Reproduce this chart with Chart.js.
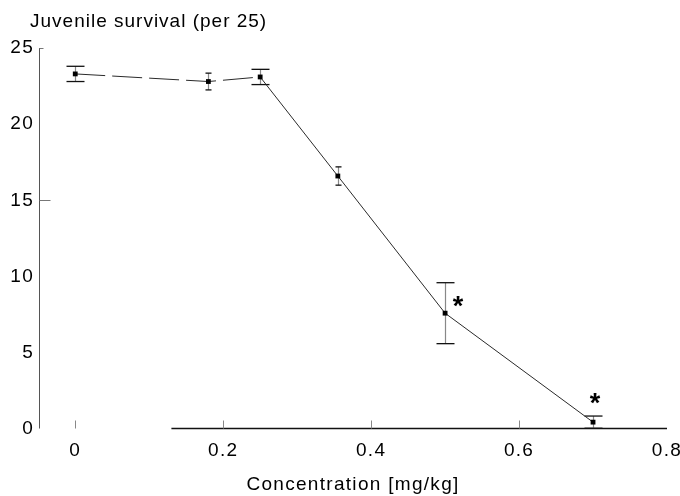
<!DOCTYPE html>
<html>
<head>
<meta charset="utf-8">
<script src="https://cdn.jsdelivr.net/npm/chart.js@4.4.1/dist/chart.umd.min.js"></script>
<style>
  html, body { margin: 0; padding: 0; background: #fff; }
  #wrap { width: 680px; height: 496px; }
</style>
</head>
<body>
<div id="wrap"><canvas id="chart" width="680" height="496"></canvas></div>
<script>
// Juvenile survival against concentration (means with error bars)
const concentration = [0, 0.18, 0.25, 0.355, 0.5, 0.7];
const survival      = [23.3, 22.8, 23.1, 16.6, 7.6, 0.45];
const survivalError = [0.5, 0.55, 0.5, 0.6, 2.0, 0.4];
const significant   = [false, false, false, false, true, true];

const xTickValues = [0, 0.2, 0.4, 0.6, 0.8];
const yTickValues = [0, 5, 10, 15, 20, 25];

const yAxisTitle = 'Juvenile survival (per 25)';
const xAxisTitle = 'Concentration [mg/kg]';

// drawing style
const FONT_FAMILY = '"Liberation Sans", Arial, Helvetica, sans-serif';
const FONT_SIZE = 19;
const LETTER_SPACING = '1.3px';
const capHalfWidth = [9, 3, 9, 3, 9, 9];
const starOffset = [null, null, null, null, [13, -12], [2, -24]];
const xAxisLineStart = 0.13;

const figureDecor = {
  id: 'figureDecor',
  beforeDraw(chart) {
    chart.ctx.letterSpacing = LETTER_SPACING;
  },
  beforeDatasetsDraw(chart) {
    const { ctx, chartArea, scales: { x, y } } = chart;
    ctx.save();
    ctx.letterSpacing = '0px';
    const y0 = Math.round(y.getPixelForValue(0)) - 0.5;
    const xl = Math.round(chartArea.left) + 0.5;

    // vertical axis
    ctx.strokeStyle = '#555';
    ctx.lineWidth = 1;
    ctx.beginPath();
    ctx.moveTo(xl, chartArea.top);
    ctx.lineTo(xl, y0);
    ctx.stroke();

    // inner ticks on the vertical axis
    ctx.strokeStyle = '#777';
    [[15, 11], [25, 4]].forEach(([v, len]) => {
      const py = Math.round(y.getPixelForValue(v)) + 0.5;
      ctx.beginPath();
      ctx.moveTo(xl, py);
      ctx.lineTo(xl + len, py);
      ctx.stroke();
    });

    // horizontal axis
    ctx.strokeStyle = '#111';
    ctx.lineWidth = 1.4;
    ctx.beginPath();
    ctx.moveTo(x.getPixelForValue(xAxisLineStart), y0);
    ctx.lineTo(chartArea.right, y0);
    ctx.stroke();

    // inner ticks on the horizontal axis
    ctx.strokeStyle = '#888';
    ctx.lineWidth = 1;
    xTickValues.slice(0, -1).forEach(v => {
      const px = Math.round(x.getPixelForValue(v)) + 0.5;
      ctx.beginPath();
      ctx.moveTo(px, y0);
      ctx.lineTo(px, y0 - 8);
      ctx.stroke();
    });

    // error bars
    concentration.forEach((c, i) => {
      const px = Math.round(x.getPixelForValue(c)) + 0.5;
      const top = y.getPixelForValue(survival[i] + survivalError[i]);
      const bot = y.getPixelForValue(Math.max(0, survival[i] - survivalError[i]));
      ctx.strokeStyle = '#888';
      ctx.lineWidth = 1.2;
      ctx.beginPath();
      ctx.moveTo(px, top);
      ctx.lineTo(px, bot);
      ctx.stroke();
      ctx.strokeStyle = '#111';
      ctx.lineWidth = 1.3;
      const w = capHalfWidth[i];
      [top, bot].forEach(py => {
        ctx.beginPath();
        ctx.moveTo(px - w, py);
        ctx.lineTo(px + w, py);
        ctx.stroke();
      });
    });
    ctx.restore();
  },
  afterDatasetsDraw(chart) {
    const { ctx, scales: { x, y } } = chart;
    ctx.save();
    ctx.letterSpacing = '0px';
    ctx.fillStyle = '#000';
    ctx.font = 'bold 27px ' + FONT_FAMILY;
    ctx.textAlign = 'center';
    ctx.textBaseline = 'middle';
    concentration.forEach((c, i) => {
      if (!significant[i]) return;
      const [dx, dy] = starOffset[i];
      const px = x.getPixelForValue(c) + dx;
      const py = y.getPixelForValue(survival[i]) + dy;
      ctx.fillText('*', px, py + 6);
    });
    ctx.restore();
  },
  afterDraw(chart) {
    const { ctx } = chart;
    ctx.save();
    ctx.letterSpacing = '1px';
    ctx.fillStyle = '#000';
    ctx.font = FONT_SIZE + 'px ' + FONT_FAMILY;
    ctx.textAlign = 'left';
    ctx.textBaseline = 'alphabetic';
    ctx.fillText(yAxisTitle, 30, 27);
    ctx.restore();
  }
};

new Chart(document.getElementById('chart'), {
  type: 'scatter',
  data: {
    datasets: [{
      data: concentration.map((c, i) => ({ x: c, y: survival[i] })),
      showLine: true,
      borderColor: '#2a2a2a',
      borderWidth: 1,
      backgroundColor: '#000',
      pointBackgroundColor: '#000',
      pointBorderColor: '#000',
      pointBorderWidth: 0,
      pointStyle: 'rect',
      pointRadius: 3.4,
      segment: {
        borderDash: ctx => ctx.p0DataIndex < 2 ? [30, 7] : undefined
      }
    }]
  },
  options: {
    responsive: false,
    devicePixelRatio: 1,
    animation: false,
    layout: { padding: { top: 48, right: 13, left: 0, bottom: 0 } },
    plugins: {
      legend: { display: false },
      tooltip: { enabled: false }
    },
    scales: {
      x: {
        type: 'linear',
        min: -0.049,
        max: 0.8,
        grid: { display: false, drawTicks: false },
        border: { display: false },
        afterBuildTicks: s => { s.ticks = xTickValues.map(v => ({ value: v })); },
        afterFit: s => { s.height = 67; s.paddingLeft = 0; s.paddingRight = 0; },
        ticks: {
          color: '#000',
          padding: 10,
          maxRotation: 0,
          autoSkip: false,
          font: { family: FONT_FAMILY, size: FONT_SIZE },
          callback: v => String(v)
        },
        title: {
          display: true,
          text: xAxisTitle,
          color: '#000',
          font: { family: FONT_FAMILY, size: FONT_SIZE },
          padding: { top: 0, bottom: 0 }
        }
      },
      y: {
        type: 'linear',
        min: 0,
        max: 25,
        grid: { display: false, drawTicks: false },
        border: { display: false },
        afterBuildTicks: s => { s.ticks = yTickValues.map(v => ({ value: v })); },
        afterFit: s => { s.width = 39; s.paddingTop = 0; s.paddingBottom = 0; },
        ticks: {
          color: '#000',
          padding: 5,
          autoSkip: false,
          font: { family: FONT_FAMILY, size: FONT_SIZE },
          callback: v => String(v)
        }
      }
    }
  },
  plugins: [figureDecor]
});
</script>
</body>
</html>
